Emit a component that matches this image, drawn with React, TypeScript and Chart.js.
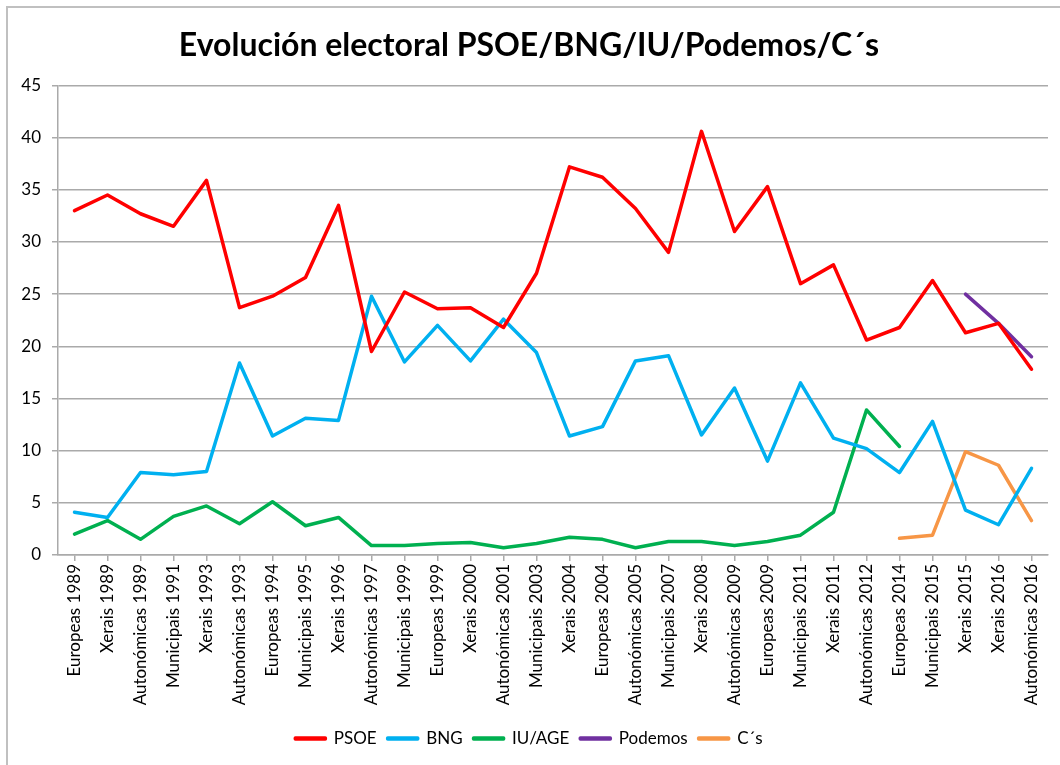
import React, { useEffect, useRef } from "react";
import { Chart, registerables } from "chart.js";

Chart.register(...registerables);

const categories = [
  "Europeas 1989", "Xerais 1989", "Autonómicas 1989", "Municipais 1991", "Xerais 1993",
  "Autonómicas 1993", "Europeas 1994", "Municipais 1995", "Xerais 1996", "Autonómicas 1997",
  "Municipais 1999", "Europeas 1999", "Xerais 2000", "Autonómicas 2001", "Municipais 2003",
  "Xerais 2004", "Europeas 2004", "Autonómicas 2005", "Municipais 2007", "Xerais 2008",
  "Autonómicas 2009", "Europeas 2009", "Municipais 2011", "Xerais 2011", "Autonómicas 2012",
  "Europeas 2014", "Municipais 2015", "Xerais 2015", "Xerais 2016", "Autonómicas 2016",
];

const psoe = [
  33.0, 34.5, 32.7, 31.5, 35.9, 23.7, 24.8, 26.6, 33.5, 19.5,
  25.2, 23.6, 23.7, 21.8, 27.0, 37.2, 36.2, 33.2, 29.0, 40.6,
  31.0, 35.3, 26.0, 27.8, 20.6, 21.8, 26.3, 21.3, 22.2, 17.8,
];

const bng = [
  4.1, 3.6, 7.9, 7.7, 8.0, 18.4, 11.4, 13.1, 12.9, 24.8,
  18.5, 22.0, 18.6, 22.6, 19.4, 11.4, 12.3, 18.6, 19.1, 11.5,
  16.0, 9.0, 16.5, 11.2, 10.2, 7.9, 12.8, 4.3, 2.9, 8.3,
];

const iuAge = [
  2.0, 3.3, 1.5, 3.7, 4.7, 3.0, 5.1, 2.8, 3.6, 0.9,
  0.9, 1.1, 1.2, 0.7, 1.1, 1.7, 1.5, 0.7, 1.3, 1.3,
  0.9, 1.3, 1.9, 4.1, 13.9, 10.4, null, null, null, null,
];

const podemos = [
  null, null, null, null, null, null, null, null, null, null,
  null, null, null, null, null, null, null, null, null, null,
  null, null, null, null, null, null, null, 25.0, 22.2, 19.0,
];

const cs = [
  null, null, null, null, null, null, null, null, null, null,
  null, null, null, null, null, null, null, null, null, null,
  null, null, null, null, null, 1.6, 1.9, 9.9, 8.6, 3.3,
];

const yTicks = [0, 5, 10, 15, 20, 25, 30, 35, 40, 45];

const titleText = "Evolución electoral PSOE/BNG/IU/Podemos/C´s";

const FONT = "Lato, 'Open Sans', sans-serif";

const framePlugin = {
  id: "frame",
  beforeDraw(chart: any) {
    const { ctx, width, height } = chart;
    ctx.save();
    ctx.fillStyle = "#ffffff";
    ctx.fillRect(0, 0, width, height);
    ctx.strokeStyle = "#c0c0c0";
    ctx.lineWidth = 2;
    ctx.beginPath();
    ctx.moveTo(7, height);
    ctx.lineTo(7, 7);
    ctx.lineTo(width, 7);
    ctx.stroke();
    ctx.restore();
  },
};

export default function App() {
  const ref = useRef<HTMLCanvasElement | null>(null);

  useEffect(() => {
    document.body.style.margin = "0";
    const mk = (label: string, data: any[], color: string) => ({
      label,
      data,
      borderColor: color,
      backgroundColor: color,
      borderWidth: 3.5,
      pointRadius: 0,
      pointHoverRadius: 0,
      tension: 0,
      spanGaps: false,
      borderCapStyle: "round" as const,
      borderJoinStyle: "round" as const,
    });
    const chart = new Chart(ref.current as HTMLCanvasElement, {
      type: "line",
      data: {
        labels: categories,
        datasets: [
          mk("PSOE", psoe, "#ff0000"),
          mk("BNG", bng, "#00b0f0"),
          mk("IU/AGE", iuAge, "#00b050"),
          mk("Podemos", podemos, "#7030a0"),
          mk("C´s", cs, "#f79646"),
        ],
      },
      options: {
        responsive: false,
        animation: false,
        layout: { padding: { left: 10, right: 12, top: 0, bottom: 8 } },
        plugins: {
          title: {
            display: true,
            text: titleText,
            color: "#000000",
            font: { family: FONT, size: 32, weight: "bold" },
            padding: { top: 26, bottom: 21 },
          },
          legend: {
            position: "bottom",
            labels: {
              boxWidth: 30,
              boxHeight: 1,
              color: "#000000",
              font: { family: FONT, size: 17 },
              padding: 11,
            },
          },
          tooltip: { enabled: false },
        },
        scales: {
          x: {
            offset: true,
            grid: {
              display: true,
              drawOnChartArea: false,
              drawTicks: true,
              tickLength: 6,
              color: "#aaaaaa",
              lineWidth: 1.5,
            },
            border: { display: true, color: "#aaaaaa", width: 1.5 },
            ticks: {
              autoSkip: false,
              minRotation: 90,
              maxRotation: 90,
              color: "#000000",
              font: { family: FONT, size: 17 },
              padding: 3,
            },
            afterFit: (s: any) => {
              s.height = 164;
            },
          },
          y: {
            min: 0,
            max: 45,
            afterBuildTicks: (s: any) => {
              s.ticks = yTicks.map((v) => ({ value: v }));
            },
            grid: {
              color: "#aaaaaa",
              lineWidth: 1.5,
              tickLength: 6,
            },
            border: { display: true, color: "#aaaaaa", width: 1.5 },
            ticks: {
              color: "#000000",
              font: { family: FONT, size: 17 },
              padding: 11,
            },
            afterFit: (s: any) => {
              s.width = 48;
            },
          },
        },
      },
      plugins: [framePlugin],
    });
    return () => chart.destroy();
  }, []);

  return (
    <div style={{ width: 1060, height: 765, background: "#fff" }}>
      <canvas ref={ref} width={1060} height={765} style={{ display: "block" }} />
    </div>
  );
}
